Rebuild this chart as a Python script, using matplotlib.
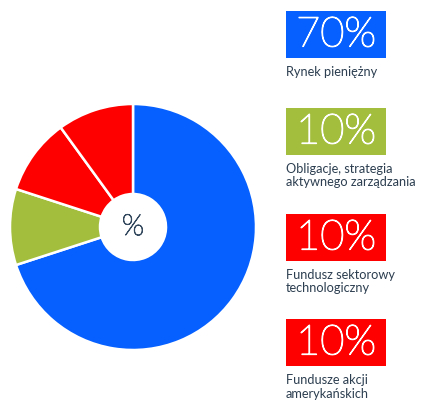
import matplotlib
matplotlib.use('Agg')
import matplotlib.pyplot as plt
import matplotlib.patheffects as pe
from matplotlib.patches import Rectangle

labels = ['Rynek pieniężny', 'Obligacje, strategia\naktywnego zarządzania',
          'Fundusz sektorowy\ntechnologiczny', 'Fundusze akcji\namerykańskich']
values = [70, 10, 10, 10]
colors = ['#0560FF', '#A3BE3C', '#FF0000', '#FF0000']

W, H = 422, 403
fig = plt.figure(figsize=(W / 100, H / 100), dpi=100)
fig.patch.set_facecolor('white')

# pie: centre (133, 227) px, radius 123 px
cx, cy, r = 133, 227, 123
ax = fig.add_axes([(cx - r) / W, (H - cy - r) / H, 2 * r / W, 2 * r / H])
ax.pie(values, colors=colors, startangle=90, counterclock=False, radius=1,
       wedgeprops=dict(width=1 - 33 / 123, edgecolor='white', linewidth=1.8))
ax.set_xlim(-1, 1)
ax.set_ylim(-1, 1)
ax.set_aspect('equal')
ax.axis('off')
ax.text(0, 0, '%', ha='center', va='center', fontsize=21, family='Lato',
        fontweight='light', color='#34495E',
        path_effects=[pe.withStroke(linewidth=0.7, foreground='#34495E')])

# boxes on the right
box_tops = [11, 108, 214, 319]
bx, bw, bh = 286, 100, 47
for top, v, c, lab in zip(box_tops, values, colors, labels):
    fig.patches.append(Rectangle((bx / W, 1 - (top + bh) / H), bw / W, bh / H,
                                 transform=fig.transFigure, facecolor=c,
                                 edgecolor='none'))
    fig.text((bx + bw / 2) / W, 1 - (top + bh / 2 + 1) / H, f'{v}%',
             ha='center', va='center', fontsize=30, family='Lato',
             fontweight='light', color='white',
             path_effects=[pe.withStroke(linewidth=0.9, foreground='white')])
    fig.text(bx / W, 1 - (top + bh + 8) / H, lab, ha='left', va='top',
             fontsize=9.2, family='Lato', color='#2C3E50', linespacing=1.15)

fig.savefig('out.png', dpi=100)
